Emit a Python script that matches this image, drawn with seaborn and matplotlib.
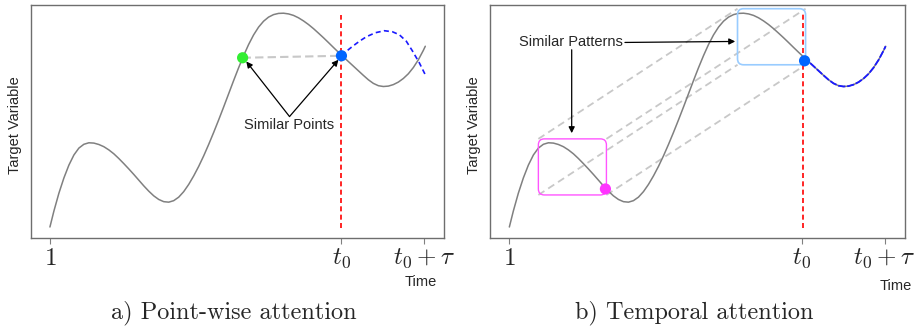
import matplotlib
matplotlib.use("Agg")
import matplotlib.pyplot as plt
import seaborn as sns
import pandas as pd
from matplotlib.patches import FancyBboxPatch

# values (time steps and target values)
curve_t = [1, 5, 10, 15, 20, 25, 30, 35, 40, 45, 50, 55, 60, 65, 70, 75, 80, 85, 90, 95,
           100, 105, 110, 115, 120, 125, 130, 135, 140, 145, 150, 155, 160, 165, 170, 175,
           180, 185, 190, 195, 200, 205, 210, 215, 220, 225, 230, 235, 240, 245, 250, 255,
           260, 265, 270, 275, 280, 285, 290, 295, 300, 305, 310, 315, 320, 325, 330, 335,
           340, 345, 350, 355, 360, 365, 370, 375, 377]
curve_v = [11.0, 27.0, 44.8, 60.0, 72.8, 82.9, 89.8, 93.6, 95.1, 94.8, 93.4, 91.2, 88.0, 84.1,
           79.4, 74.3, 69.0, 63.5, 57.8, 52.1, 46.8, 42.1, 38.5, 36.3, 35.8, 37.3, 40.8, 46.3,
           53.5, 62.0, 71.5, 82.0, 93.4, 105.4, 117.9, 130.8, 144.0, 157.2, 170.0, 182.1,
           193.2, 202.8, 210.6, 216.5, 220.6, 223.1, 224.3, 224.5, 223.8, 222.3, 219.9, 216.8,
           213.2, 209.1, 204.6, 200.0, 195.2, 190.3, 185.5, 180.8, 176.2, 171.6, 167.0, 162.4,
           158.0, 154.4, 152.1, 151.3, 151.7, 153.2, 155.7, 159.3, 164.0, 170.2, 177.9, 187.3,
           191.5]
forecast_t = [293, 298, 304, 311, 318, 327, 336, 344, 351, 358, 364, 371, 377]
forecast_v = [182, 186.5, 191.3, 196.5, 201, 205, 207, 206, 203, 196.5, 187, 175, 163]

t0 = 293
t_end = 376
tick_pos = [1, t0, t_end]
tick_labels = ["$1$", "$t_0$", "$t_0+\\tau$"]

similar_pts_t = [194, 293]
similar_pts_v = [180, 182]
pattern_pt_t = [97]
pattern_pt_v = [49]
query_pt_t = [296]
query_pt_v = [177]

# pattern boxes: (t_start, t_end, v_low, v_high)
pattern_box = (30, 98, 43, 99)
query_box = (229, 297, 173, 229)

sns.set_style("white")
plt.rcParams["mathtext.fontset"] = "cm"
plt.rcParams["font.family"] = ["Liberation Sans", "DejaVu Sans"]

fig = plt.figure(figsize=(9.16, 3.26), dpi=100)
ax_a = fig.add_axes([0.0338, 0.2699, 0.4512, 0.7157])
ax_b = fig.add_axes([0.5353, 0.2699, 0.4523, 0.7157])

curve = pd.DataFrame({"t": curve_t, "v": curve_v})
forecast = pd.DataFrame({"t": forecast_t, "v": forecast_v})
gray = "#808080"
light = "#c8c8c8"
arrow_kw = dict(arrowstyle="-|>", color="black", lw=0.9, mutation_scale=9, shrinkA=0, shrinkB=0)
label_size = 10.5


def style_axes(ax, time_xy):
    ax.set_xlim(-18, 396)
    ax.set_ylim(0, 233)
    ax.set_xticks(tick_pos)
    ax.set_xticklabels(tick_labels, fontsize=18)
    ax.set_yticks([])
    ax.tick_params(axis="x", direction="out", length=4, width=0.8, color=gray, pad=2, bottom=True)
    for s in ax.spines.values():
        s.set_color("#6e6e6e")
        s.set_linewidth(1.0)
    ax.set_xlabel("Time", fontsize=label_size)
    ax.xaxis.set_label_coords(*time_xy)
    ax.set_ylabel("Target Variable", fontsize=label_size)
    ax.yaxis.set_label_coords(-0.022, 0.484)


# a) point-wise attention
ax = ax_a
sns.lineplot(data=curve, x="t", y="v", ax=ax, color=gray, lw=1.1)
sns.lineplot(data=forecast, x="t", y="v", ax=ax, color="#1a1aff", lw=1.2, linestyle=(0, (3, 2)))
ax.plot(similar_pts_t, similar_pts_v, color=light, lw=1.5, ls=(0, (4, 2)), zorder=2)
ax.vlines(t0, 10, 223, color="red", lw=1.2, ls=(0, (3, 2)), zorder=3)
sns.scatterplot(x=similar_pts_t[:1], y=similar_pts_v[:1], ax=ax, color="#33ee33", s=65, edgecolor="none", zorder=5)
sns.scatterplot(x=similar_pts_t[1:], y=similar_pts_v[1:], ax=ax, color="#0066ff", s=65, edgecolor="none", zorder=5)
ax.text(241, 113, "Similar Points", fontsize=label_size, ha="center", va="center")
ax.annotate("", xy=(197.7, 176.3), xytext=(241, 121.3), arrowprops=arrow_kw)
ax.annotate("", xy=(290, 178), xytext=(241, 121.3), arrowprops=arrow_kw)
style_axes(ax, (0.942, -0.16))

# b) temporal attention
ax = ax_b
sns.lineplot(data=curve, x="t", y="v", ax=ax, color=gray, lw=1.1)
tail = curve[curve["t"] >= t0]
sns.lineplot(data=tail, x="t", y="v", ax=ax, color="#1a1aff", lw=1.3, linestyle=(0, (4, 1)))
ax.vlines(t0 + 1, 10, 225, color="red", lw=1.2, ls=(0, (3, 2)), zorder=3)
x0, x1, y0, y1 = pattern_box
qx0, qx1, qy0, qy1 = query_box
for (px, py), (qx, qy) in zip([(x0, y0), (x1, y0), (x0, y1), (x1, y1)],
                               [(qx0, qy0), (qx1, qy0), (qx0, qy1), (qx1, qy1)]):
    ax.plot([px, qx], [py, qy], color=light, lw=1.3, ls=(0, (4, 2.5)), zorder=1)
ax.add_patch(FancyBboxPatch((x0, y0), x1 - x0, y1 - y0, boxstyle="round,pad=0,rounding_size=6",
                            fill=False, ec="#ff55ff", lw=1.0, zorder=2))
ax.add_patch(FancyBboxPatch((qx0, qy0), qx1 - qx0, qy1 - qy0, boxstyle="round,pad=0,rounding_size=6",
                            fill=False, ec="#99ccff", lw=1.2, zorder=2))
sns.scatterplot(x=pattern_pt_t, y=pattern_pt_v, ax=ax, color="#ff33ff", s=65, edgecolor="none", zorder=5)
sns.scatterplot(x=query_pt_t, y=query_pt_v, ax=ax, color="#0066ff", s=65, edgecolor="none", zorder=5)
ax.text(63, 195.3, "Similar Patterns", fontsize=label_size, ha="center", va="center")
ax.annotate("", xy=(226.7, 196.3), xytext=(116.5, 195.3), arrowprops=arrow_kw)
ax.annotate("", xy=(63.3, 104.7), xytext=(63.3, 188), arrowprops=arrow_kw)
style_axes(ax, (0.978, -0.176))

fig.text(0.2555, 0.040, "a) Point-wise attention", fontfamily="cmr10", fontsize=17.5, ha="center", va="center")
fig.text(0.7584, 0.040, "b) Temporal attention", fontfamily="cmr10", fontsize=17.5, ha="center", va="center")

fig.savefig("out.png", dpi=100)
